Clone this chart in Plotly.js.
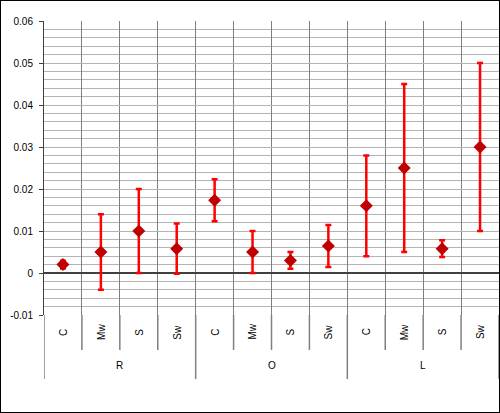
<!DOCTYPE html>
<html><head><meta charset="utf-8">
<script src="https://cdn.plot.ly/plotly-3.0.1.min.js"></script>
<style>
html,body{margin:0;padding:0;background:#fff;}
#wrap{width:500px;height:413px;box-sizing:border-box;border:1px solid #000;}
#chart{width:498px;height:411px;}
</style></head>
<body><div id="wrap"><div id="chart"></div></div>
<script>
const groups = ['R','R','R','R','O','O','O','O','L','L','L','L'];
const subs = ['C','Mw','S','Sw','C','Mw','S','Sw','C','Mw','S','Sw'];
const values = [0.002,0.005,0.010,0.0058,0.0173,0.005,0.003,0.0064,0.016,0.025,0.0058,0.030];
const errors = [0.0009,0.009,0.010,0.006,0.005,0.005,0.002,0.005,0.012,0.020,0.002,0.020];
const groupNames = ['R','O','L'];
const yTicks = [-0.01,0,0.01,0.02,0.03,0.04,0.05,0.06];

const xs = groups.map((g,i)=>g+'-'+subs[i]);
const FONT = 'Liberation Sans, Arial, sans-serif';

const trace = {
  type:'scatter', mode:'markers', x: xs, y: values,
  marker:{symbol:'diamond', color:'#C00000', size:10},
  error_y:{type:'data', array: errors, visible:true, color:'#FF0000', thickness:2.5, width:3},
  showlegend:false, hoverinfo:'none'
};

const shapes = [];
for(let i=0;i<=xs.length;i++){
  const isGroup = i%4===0;
  shapes.push({type:'line', xref:'x', yref:'paper', x0:i-0.5, x1:i-0.5, y0:0, y1: isGroup?-0.218:-0.119,
    line:{color:'#808080', width:1.5}});
}
const annotations = groupNames.map((g,k)=>({
  xref:'x', yref:'paper', x: k*4+1.5, y:-0.173, text:g, showarrow:false,
  font:{family:FONT, size:10, color:'#000'}, xanchor:'center', yanchor:'middle'
}));
subs.forEach((s,i)=>annotations.push({
  xref:'x', yref:'paper', x: xs[i], y:-0.058, text:s, showarrow:false, textangle:-90,
  font:{family:FONT, size:10, color:'#000'}, xanchor:'center', yanchor:'middle'
}));

const layout = {
  width:498, height:411,
  margin:{l:43, r:0, t:20, b:97},
  paper_bgcolor:'#fff', plot_bgcolor:'#fff',
  font:{family:FONT, size:10, color:'#000'},
  xaxis:{type:'category', categoryarray: xs, showticklabels:false,
    tickson:'boundaries', showgrid:true, gridcolor:'#808080', gridwidth:1,
    ticks:'', showline:false, zeroline:false, range:[-0.5, 11.5]},
  yaxis:{range:[-0.01,0.06], tickvals:yTicks, ticktext:yTicks.map(v=>String(v)),
    showgrid:true, gridcolor:'#b4b4b4', gridwidth:1,
    minor:{dtick:0.002, tick0:0, showgrid:true, gridcolor:'#b4b4b4', gridwidth:1},
    ticks:'outside', ticklen:4, tickcolor:'#404040', showline:true, linecolor:'#404040', linewidth:1,
    ticklabelstandoff:4,
    zeroline:true, zerolinecolor:'#404040', zerolinewidth:1.5,
    tickfont:{family:FONT, size:10}},
  shapes: shapes, annotations: annotations
};
Plotly.newPlot('chart',[trace],layout,{displayModeBar:false, staticPlot:true});
</script></body></html>
